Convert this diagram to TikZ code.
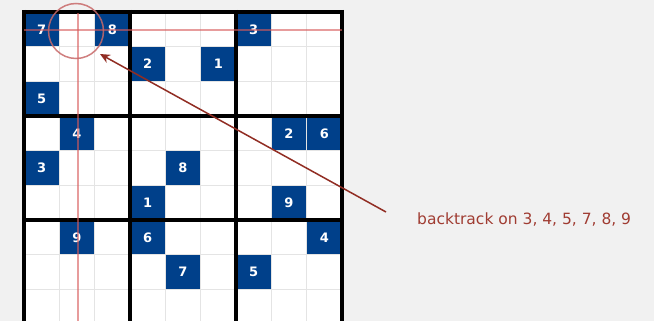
\documentclass[tikz,border=0pt]{standalone}
\usepackage{fontspec}
\setmainfont{DejaVu Sans}
\usetikzlibrary{arrows.meta}
\definecolor{bg}{RGB}{241,241,241}
\definecolor{cellblue}{RGB}{0,64,138}
\definecolor{thingray}{RGB}{228,228,228}
\definecolor{hl}{RGB}{215,90,90}
\definecolor{ring}{RGB}{200,105,105}
\definecolor{arrowred}{RGB}{145,45,35}
\definecolor{textred}{RGB}{160,60,50}
\tikzset{
  given/.style={fill=cellblue, text=white, font=\fontsize{13}{13}\selectfont\bfseries,
    minimum width=35.33pt, minimum height=34.7pt, inner sep=0pt},
  thinline/.style={draw=thingray, line width=1pt},
  thickline/.style={draw=black, line width=4pt},
  hline/.style={draw=hl, line width=1.5pt, draw opacity=0.6},
  ringstyle/.style={circle, draw=ring, line width=1.5pt, draw opacity=0.85, minimum size=55pt, inner sep=0pt},
  arr/.style={draw=arrowred, line width=1.5pt, -{Stealth[length=10pt,width=9pt]}},
  lbl/.style={anchor=west, text=textred, font=\fontsize{15.5}{18}\selectfont, inner sep=0pt}
}
\begin{document}
\begin{tikzpicture}[x=1pt,y=-1pt]
\clip (0,0) rectangle (654,321);
\fill[bg] (0,0) rectangle (654,321);
\fill[white] (24,12) rectangle (342,330);
\foreach \r/\c/\d in {0/0/7,0/2/8,0/6/3,1/3/2,1/5/1,2/0/5,3/1/4,3/7/2,3/8/6,4/0/3,4/4/8,5/3/1,5/7/9,6/1/9,6/3/6,6/8/4,7/4/7,7/6/5}
  \node[given] (g\r\c) at ({24+35.33*(\c+0.5)},{12+34.7*(\r+0.5)}) {\d};
\foreach \i in {1,2,4,5,7,8} {
  \draw[thinline] ({24+35.33*\i},12) -- ({24+35.33*\i},330);
  \draw[thinline] (24,{12+34.7*\i}) -- (342,{12+34.7*\i});
}
\foreach \i in {0,3,6,9} {
  \draw[thickline] ({24+35.33*\i},10) -- ({24+35.33*\i},330);
}
\foreach \i in {0,3,6} {
  \draw[thickline] (22,{12+34.7*\i}) -- (344,{12+34.7*\i});
}
\draw[hline] (24,30) -- (342,30);
\draw[hline] (78,13) -- (78,330);
\node[ringstyle] (focus) at (76,31) {};
\node[lbl] (label) at (417,220) {backtrack on 3, 4, 5, 7, 8, 9};
\coordinate (tail) at (386,212);
\coordinate (tip) at (100,54);
\draw[arr] (tail) -- (tip);
\end{tikzpicture}
\end{document}
